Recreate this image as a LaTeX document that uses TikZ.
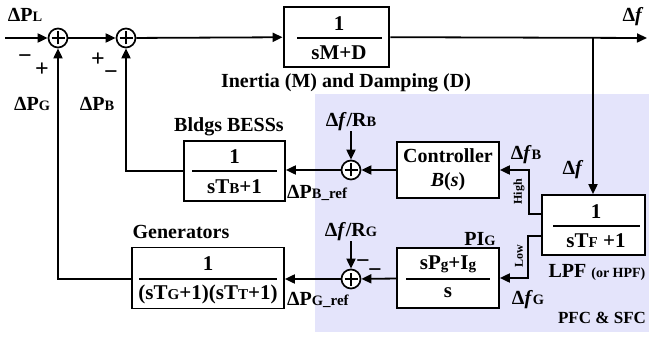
\documentclass[tikz,border=0pt]{standalone}
\usepackage{fontspec}
\setmainfont{Liberation Serif}
\usetikzlibrary{arrows.meta,calc}
\newcommand\sm[1]{\scalebox{0.72}{#1}}
\newcommand\dff{Δ\textit{f}}
\definecolor{pfcbg}{RGB}{228,228,251}
\tikzset{
  lbl/.style={font=\fontsize{20}{22}\selectfont\bfseries, inner sep=0pt},
  sgn/.style={font=\fontsize{24}{24}\selectfont\bfseries, inner sep=0pt},
  frac/.style={font=\fontsize{21}{23}\selectfont\bfseries, inner sep=0pt},
  blk/.style={draw, line width=1.7pt, fill=white, inner sep=0pt},
  sumj/.style={circle, draw, line width=1.7pt, fill=white, minimum size=19pt, inner sep=0pt,
    path picture={\draw[line width=1.5pt]
      ($(path picture bounding box.center)+(-6.5pt,0)$) -- ++(13pt,0)
      ($(path picture bounding box.center)+(0,-6.5pt)$) -- ++(0,13pt);}},
  conn/.style={line width=1.8pt},
  arr/.style={conn, -{Triangle[length=10pt,width=9pt]}},
  fbar/.style={line width=1.5pt},
}
\begin{document}
\begin{tikzpicture}[x=1pt,y=-1pt]
\useasboundingbox (0,0) rectangle (649,337);
% shaded region
\fill[pfcbg] (315,94) rectangle (649,332);

% summing junctions
\node[sumj] (s1) at (58,38) {};
\node[sumj] (s2) at (126,38) {};
\node[sumj] (sb) at (351,170) {};
\node[sumj] (sg) at (351,279) {};

% blocks
\node[blk, line width=2.8pt, minimum width=105pt, minimum height=60pt] (inertia) at (336.5,37) {};
\node[frac] (inN) at (339,24) {1};
\node[frac] (inD) at (339,53) {sM+D};
\draw[fbar] (297,38) -- (382,38);

\node[blk, minimum width=101pt, minimum height=60pt] (bess) at (234.5,171) {};
\node[frac] (bN) at (234.5,157) {1};
\node[frac] (bD) at (234.5,187) {sT\sm{B}+1};
\draw[fbar] (192,171) -- (277,171);

\node[blk, minimum width=152pt, minimum height=61pt] (gen) at (208,278) {};
\node[frac] (gN) at (208,264) {1};
\node[frac] (gD) at (208,294) {(sT\sm{G}+1)(sT\sm{T}+1)};
\draw[fbar] (139,279) -- (277,279);

\node[blk, minimum width=102pt, minimum height=56pt, align=center,
      font=\fontsize{20}{24}\selectfont\bfseries] (ctrl) at (448,170) {Controller\\\textit{B}(\textit{s})};

\node[blk, minimum width=102pt, minimum height=60pt] (pi) at (448,278) {};
\node[frac] (pN) at (448,264) {sP\sm{g}+I\sm{g}};
\node[frac] (pD) at (448,293) {s};
\draw[fbar] (406,279) -- (490,279);

\node[blk, minimum width=103pt, minimum height=60pt] (lpf) at (593.5,225) {};
\node[frac] (lN) at (596,212) {1};
\node[frac] (lD) at (596,241) {sT\sm{F} +1};
\draw[fbar] (553,226) -- (640,226);

% coordinates
\coordinate (inL) at (5,38);
\coordinate (out) at (647,38);
\coordinate (br) at (593,38);
\coordinate (hA) at (529,214);
\coordinate (lA) at (528,236);
\coordinate (gc) at (58,279);
\coordinate (bc) at (126,171);

% connectors
\draw[arr] (inL) -- (s1);
\draw[arr] (s1) -- (s2);
\draw[arr] (s2) -- (inertia);
\draw[arr] (inertia) -- (out);
\draw[arr] (br) -- (lpf.north -| br);
\draw[arr] (lpf.west |- hA) -- (hA) |- (ctrl.east);
\draw[arr] (lpf.west |- lA) -- (lA) |- (pi.east);
\draw[arr] (ctrl) -- (sb);
\draw[arr] (pi) -- (sg);
\draw[arr] (sb) -- (bess.east |- sb);
\draw[arr] (sg) -- (gen.east |- sg);
\draw[arr] (bess.west |- bc) -- (bc) -- (s2);
\draw[arr] (gen.west |- gc) -- (gc) -- (s1);

% reference labels over junctions
\node[lbl] (rb) at (351,122) {\dff/R\sm{B}};
\node[lbl] (rg) at (351,232) {\dff/R\sm{G}};
\draw[arr] (rb) -- (sb);
\draw[arr] (rg) -- (sg);

% texts
\node[lbl] (tPL) at (25,15) {ΔP\sm{L}};
\node[sgn] (m1) at (25,59) {−};
\node[sgn] (p1) at (42,70) {+};
\node[sgn] (p2) at (98,60) {+};
\node[sgn] (m2) at (111,75) {−};
\node[lbl] (tPG) at (32,104) {ΔP\sm{G}};
\node[lbl] (tPB) at (97,104) {ΔP\sm{B}};
\node[lbl] (tin) at (346,83) {Inertia (M) and Damping (D)};
\node[lbl] (tdf) at (633,17) {\dff};
\node[lbl] (tbl) at (229,127) {Bldgs BESSs};
\node[lbl] (tgen) at (181,232) {Generators};
\node[lbl, anchor=west] (tpbr) at (287,193) {ΔP\sm{B}{\fontsize{15}{15}\selectfont\_ref}};
\node[lbl, anchor=west] (tpgr) at (287,300) {ΔP\sm{G}{\fontsize{15}{15}\selectfont\_ref}};
\node[lbl] (tdfb) at (526,155) {\dff\sm{B}};
\node[lbl] (tdf2) at (573,170) {\dff};
\node[lbl] (tdfg) at (528,300) {\dff\sm{G}};
\node[lbl] (tpig) at (480,239) {PI\sm{G}};
\node[sgn] (m3) at (363,264) {−};
\node[sgn] (m4) at (375,273) {−};
\node[lbl, rotate=90, font=\fontsize{12}{12}\selectfont\bfseries] (thigh) at (519,192) {High};
\node[lbl, rotate=90, font=\fontsize{12}{12}\selectfont\bfseries] (tlow) at (519,256) {Low};
\node[lbl] (tlpf) at (597,272) {LPF {\fontsize{14}{14}\selectfont(or HPF)}};
\node[lbl, font=\fontsize{17}{19}\selectfont\bfseries] (tpfc) at (602,318) {PFC \& SFC};
\end{tikzpicture}
\end{document}
